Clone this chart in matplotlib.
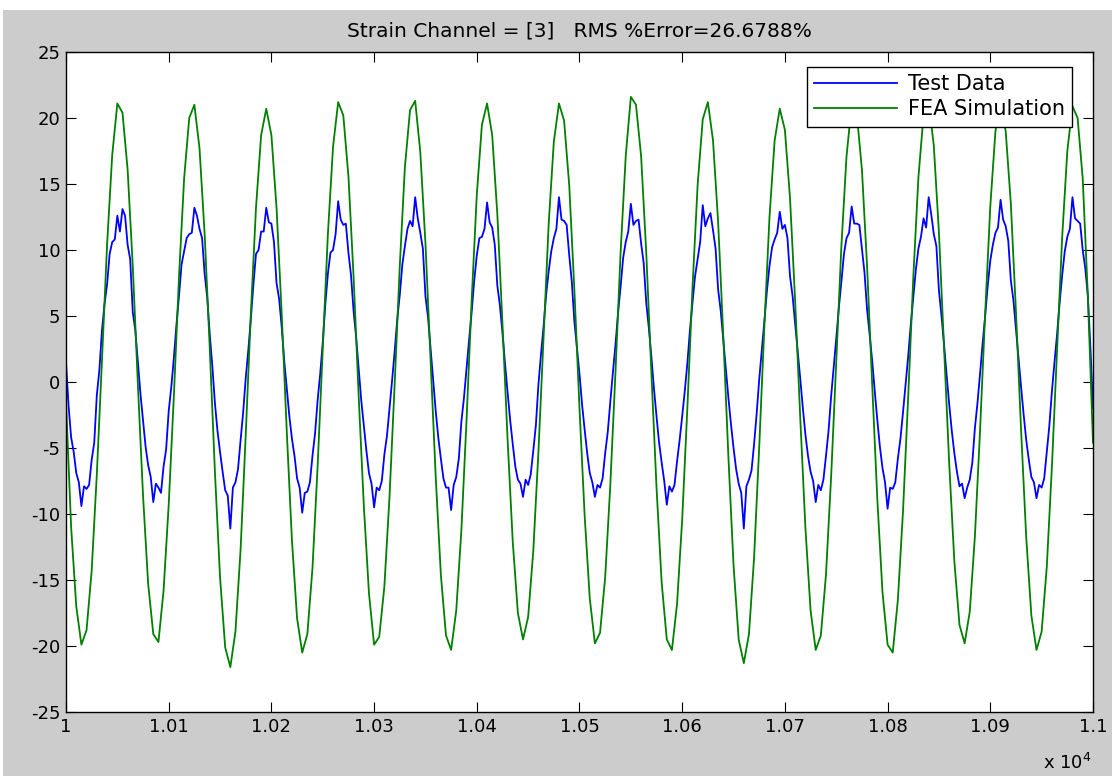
import numpy as np
import matplotlib.pyplot as plt
from matplotlib.patches import Rectangle
from matplotlib.ticker import FuncFormatter, MultipleLocator

plt.rcParams['font.family'] = ['DejaVu Sans']

x_start = 10000
fea_step = 5      # FEA output every 5 counts
test_step = 2.5   # measured channel every 2.5 counts

fea_sim = [
    -1.5, -11.0, -17.0, -19.9, -18.8, -14.3, -7.0, 1.6, 10.4, 17.2,
    21.1, 20.4, 16.1, 8.8, -0.2, -8.6, -15.3, -19.1, -19.7, -15.8,
    -9.3, -1.1, 7.9, 15.4, 20.0, 21.0, 17.7, 11.2, 2.5, -6.8,
    -14.8, -20.1, -21.6, -18.9, -12.7, -4.0, 5.2, 13.2, 18.7, 20.7,
    18.7, 13.2, 5.2, -3.8, -12.0, -17.9, -20.5, -19.1, -14.1, -6.4,
    2.5, 11.2, 17.8, 21.2, 20.2, 15.6, 8.0, -1.1, -9.4, -16.0,
    -19.9, -19.3, -15.5, -8.7, -0.2, 8.8, 16.3, 20.6, 21.3, 17.4,
    10.5, 1.6, -7.2, -14.6, -19.2, -20.3, -17.3, -11.2, -2.9, 6.2,
    14.2, 19.5, 21.1, 18.7, 12.7, 4.4, -4.4, -12.1, -17.5, -19.5,
    -17.8, -12.8, -5.3, 3.4, 12.0, 18.2, 21.1, 19.8, 14.9, 7.0,
    -2.0, -10.1, -16.4, -19.8, -19.0, -14.8, -7.8, 0.7, 9.8, 17.1,
    21.6, 21.0, 17.1, 9.8, 0.7, -8.0, -15.2, -19.5, -20.3, -16.8,
    -10.4, -2.0, 7.1, 14.9, 19.9, 21.2, 18.3, 12.1, 3.5, -5.7,
    -13.9, -19.5, -21.3, -19.1, -13.3, -4.9, 4.2, 12.5, 18.3, 20.7,
    19.1, 13.9, 6.1, -2.8, -11.1, -17.3, -20.3, -19.2, -14.6, -7.2,
    1.6, 10.3, 17.1, 21.0, 20.3, 16.1, 8.8, -0.2, -8.9, -15.9,
    -19.9, -20.5, -16.5, -9.8, -1.2, 7.9, 15.5, 20.2, 21.2, 17.9,
    11.3, 2.6, -6.2, -13.6, -18.4, -19.8, -17.4, -11.7, -3.7, 5.2,
    13.3, 19.0, 21.0, 19.0, 13.5, 5.3, -3.7, -11.8, -17.7, -20.3,
    -18.9, -14.0, -6.4, 2.4, 11.0, 17.5, 20.9, 20.0, 15.4, 6.5,
    -4.6,
]

test_data = [
    1.5, -1.8, -4.2, -5.3, -6.9, -7.6, -9.4, -7.9, -8.1, -7.8, -5.9, -4.6, -1.0, 0.9, 3.9, 5.9, 7.4, 9.7, 10.6, 10.8,
    12.6, 11.4, 13.1, 12.6, 10.4, 9.3, 5.3, 3.9, 1.5, -0.9, -2.9, -4.9, -6.3, -7.2, -9.1, -7.7, -8.0, -8.4, -6.4, -5.1,
    -2.2, -0.4, 1.8, 4.3, 6.5, 8.9, 9.9, 10.9, 11.2, 11.3, 13.2, 12.6, 11.6, 10.9, 8.2, 6.4, 3.6, 1.2, -1.6, -3.7,
    -5.3, -6.8, -8.2, -8.6, -11.1, -8.0, -7.6, -6.6, -4.4, -2.3, 0.3, 2.4, 4.8, 7.4, 9.7, 10.0, 11.4, 11.4, 13.2, 12.1,
    12.0, 10.6, 7.5, 6.3, 4.2, 1.6, -0.5, -2.6, -4.3, -5.6, -7.3, -8.0, -9.9, -8.4, -8.3, -7.6, -5.6, -3.9, -1.4, 0.6,
    3.0, 5.9, 8.2, 9.8, 10.0, 11.2, 13.7, 12.3, 11.9, 12.0, 9.8, 8.1, 5.4, 3.4, 1.0, -1.4, -3.3, -5.2, -6.9, -7.7,
    -9.5, -8.0, -8.2, -7.5, -5.5, -4.1, -2.0, 0.1, 2.3, 4.7, 6.6, 8.9, 10.3, 11.6, 12.2, 11.8, 14.0, 12.4, 11.3, 10.1,
    6.5, 4.9, 2.5, 0.0, -2.2, -4.2, -5.8, -7.3, -8.0, -8.0, -9.7, -7.8, -7.2, -5.8, -3.0, -1.2, 1.0, 3.2, 5.3, 7.7,
    9.6, 10.9, 11.0, 11.6, 13.6, 12.1, 11.7, 10.4, 7.3, 5.8, 3.7, 1.4, -0.8, -2.9, -4.7, -6.4, -7.4, -7.7, -8.7, -7.4,
    -7.8, -7.0, -5.2, -3.3, -0.2, 2.1, 4.2, 6.6, 8.4, 9.9, 10.9, 11.6, 14.0, 12.3, 12.2, 11.9, 9.6, 7.6, 4.6, 2.6,
    0.6, -1.7, -3.6, -5.4, -6.9, -7.6, -8.7, -7.8, -8.0, -7.3, -5.4, -3.8, -1.5, 0.7, 2.8, 5.2, 7.2, 9.4, 10.6, 11.4,
    13.5, 11.9, 12.2, 12.3, 10.5, 9.0, 6.0, 4.1, 1.9, -0.5, -2.6, -4.6, -6.1, -7.5, -9.3, -7.9, -8.3, -7.8, -6.0, -4.4,
    -2.6, -0.7, 1.4, 3.9, 6.0, 8.0, 9.3, 10.6, 13.4, 11.8, 12.4, 12.8, 11.5, 10.1, 7.0, 5.4, 3.2, 1.0, -1.2, -3.2,
    -5.0, -6.6, -7.7, -8.4, -11.1, -7.9, -7.4, -6.7, -4.7, -2.4, 0.2, 2.4, 4.6, 6.9, 8.8, 10.2, 10.8, 11.3, 12.9, 11.6,
    11.9, 10.9, 8.0, 6.5, 4.4, 2.3, 0.2, -2.0, -4.0, -5.6, -6.8, -7.5, -9.1, -7.8, -8.2, -7.4, -5.6, -3.7, -1.1, 1.1,
    3.3, 5.6, 7.6, 9.7, 10.9, 11.3, 13.3, 12.0, 12.0, 11.9, 10.1, 8.3, 5.5, 3.6, 1.6, -0.7, -2.9, -4.9, -6.5, -7.6,
    -9.6, -8.0, -8.1, -7.6, -5.8, -4.3, -2.3, -0.2, 1.9, 4.3, 6.4, 8.5, 10.1, 11.0, 12.4, 11.7, 14.0, 12.7, 11.2, 10.3,
    6.9, 5.0, 2.8, 0.5, -1.7, -3.7, -5.4, -6.8, -7.9, -7.7, -8.8, -8.0, -7.4, -6.1, -3.5, -1.6, 0.6, 2.9, 5.0, 7.3,
    9.2, 10.4, 11.3, 11.7, 13.8, 12.3, 11.8, 10.7, 7.7, 6.2, 4.0, 1.8, -0.4, -2.5, -4.4, -5.9, -7.2, -7.6, -8.8, -7.8,
    -8.0, -7.3, -5.3, -3.3, -0.7, 1.5, 3.6, 6.0, 8.1, 9.9, 11.0, 11.6, 14.0, 12.4, 12.2, 12.0, 10.0, 8.6, 6.5, 2.6,
    -2.0,
]

channel = 3
rms_error = 26.6788

fea_x = x_start + fea_step * np.arange(len(fea_sim))
test_x = x_start + test_step * np.arange(len(test_data))

W, H = 1112, 776
fig = plt.figure(figsize=(W / 100, H / 100), dpi=100, facecolor='white')
# grey figure window area
fig.patches.append(Rectangle((3 / W, 0), 1, (H - 10) / H, transform=fig.transFigure,
                             facecolor='#cccccc', edgecolor='none', zorder=-10))

ax = fig.add_axes([66 / W, (H - 712) / H, (1093 - 66) / W, (712 - 52) / H])
ax.set_facecolor('white')

ax.plot(test_x, test_data, color='#0000ff', lw=1.3, label='Test Data')
ax.plot(fea_x, fea_sim, color='#008000', lw=1.3, label='FEA Simulation')

ax.set_xlim(10000, 11000)
ax.set_ylim(-25, 25)
ax.xaxis.set_major_locator(MultipleLocator(100))
ax.yaxis.set_major_locator(MultipleLocator(5))
ax.xaxis.set_major_formatter(FuncFormatter(lambda v, p: '%g' % round(v / 1e4, 4)))
ax.yaxis.set_major_formatter(FuncFormatter(lambda v, p: '%d' % v))

ax.tick_params(direction='in', length=7, width=0.8, top=True, right=True,
               labelsize=13, colors='black', pad=4)
for s in ax.spines.values():
    s.set_linewidth(1.0)
    s.set_color('black')

ax.set_title('Strain Channel = [%d]   RMS %%Error=%g%%' % (channel, rms_error),
             fontsize=14.5, pad=11)
fig.text(1092 / W, (H - 763) / H, r'x 10$^{4}$', ha='right', va='center', fontsize=13)

leg = ax.legend(loc='upper right', bbox_to_anchor=(0.9796, 0.9777), borderaxespad=0,
                fancybox=False, framealpha=1, edgecolor='black', fontsize=15,
                handlelength=4.0, handletextpad=0.5, labelspacing=0.25, borderpad=0.35)
leg.get_frame().set_linewidth(1.0)

fig.savefig('out.png', dpi=100, facecolor=fig.get_facecolor())
